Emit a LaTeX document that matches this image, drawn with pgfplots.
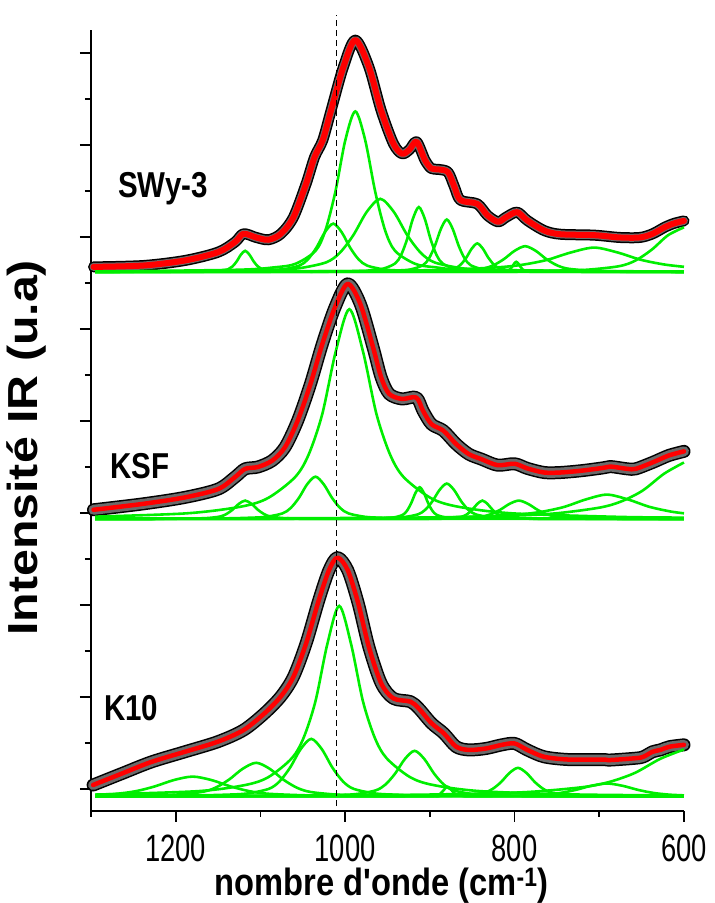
\documentclass[border=0pt]{standalone}
\usepackage{fontspec}
\setmainfont{Liberation Sans}
\newfontfamily\tickfont[FakeStretch=0.72]{Liberation Sans}
\newfontfamily\labfont[FakeStretch=0.86]{Liberation Sans}
\newfontfamily\namefont[FakeStretch=0.82]{Liberation Sans}
\newfontfamily\ylabfont[FakeStretch=1.15]{Liberation Sans}
\usepackage{pgfplots}
\usepackage{pgfplotstable}
\pgfplotsset{compat=1.18}
\definecolor{fitred}{RGB}{255,0,0}
\definecolor{compgreen}{RGB}{0,238,0}

\pgfplotstableread{
x y
600 12.35
611 12.30
622 12.22
637 12.07
652 11.99
676 11.99
706 12.04
746 12.06
765 12.14
785 12.36
797 12.54
810 12.43
819.5 12.33
832 12.47
844 12.72
863.8 12.80
871 13.09
878.6 13.41
890 13.47
898.3 13.49
905.7 13.67
915.6 14.07
924 13.90
932.8 13.81
943 14.03
957.5 14.75
972 15.70
988 16.28
1002 15.70
1016.6 14.75
1026.5 14.10
1036 13.74
1046 13.16
1061 12.43
1075.8 12.07
1090.5 11.94
1105 11.99
1120 12.07
1130 11.89
1150 11.67
1189 11.49
1238 11.38
1297 11.35
}\swy

\pgfplotstableread{
x y
600 7.34
618 7.25
637 7.10
657 6.96
667 6.96
687 7.01
696 6.98
721 6.92
746 6.88
765 6.88
785 6.97
800 7.07
820 7.04
839 7.17
854 7.28
869 7.50
884 7.79
898 7.93
908 8.22
916 8.51
933 8.48
948 8.59
957.5 8.95
967 9.60
982 10.54
997 10.98
1012 10.47
1027 9.67
1041 8.80
1056 8.01
1071 7.43
1086 7.14
1103 7.00
1118 6.96
1130 6.78
1150 6.52
1189 6.34
1238 6.20
1297 6.07
}\ksf

\pgfplotstableread{
x y
600 0.96
617 0.92
628 0.85
637 0.81
648 0.70
657 0.67
687 0.63
696 0.64
736 0.64
765 0.70
785 0.85
800 0.99
815 0.96
834 0.88
854 0.85
869 0.92
883.5 1.21
898 1.43
913 1.75
923 1.90
943 1.97
957.5 2.30
972 3.09
984.6 4.04
997 4.76
1009 5.03
1019 4.76
1031 4.11
1046 3.17
1061 2.44
1076 2.01
1095.5 1.64
1120 1.28
1150 1.03
1189 0.81
1228.5 0.59
1263 0.34
1297.5 0.087
}\kten

\pgfplotsset{
  bandout/.style={black, line width=#1, smooth, line cap=round, line join=round},
  bandin/.style={black!58, line width=#1, smooth, line cap=round, line join=round},
  fit/.style={fitred, line width=#1, smooth, line cap=round, line join=round},
  comp/.style={compgreen, line width=2.6bp, smooth},
}

\begin{document}
\begin{tikzpicture}
\begin{axis}[
  scale only axis, width=593bp, height=781bp,
  x dir=reverse, xmin=600, xmax=1300, ymin=-0.478, ymax=16.5,
  axis x line*=bottom, axis y line*=left,
  clip=false,
  axis line style={line width=1.8bp, black},
  xtick={600,800,1000,1200}, minor xtick={700,900,1100,1300},
  ytick={0,2,...,16}, minor ytick={1,3,...,15},
  yticklabels={},
  tick align=outside, major tick length=11bp, minor tick length=6bp,
  tick style={black, line width=1.8bp},
  /pgf/number format/assume math mode=true,
  /pgf/number format/set thousands separator={},
  xticklabel style={font=\tickfont\fontsize{38bp}{38bp}\selectfont, inner sep=0pt, anchor=north, yshift=-13bp},
  xlabel={nombre d'onde (cm\textsuperscript{-1})},
  xlabel style={font=\labfont\bfseries\fontsize{38bp}{38bp}\selectfont, at={(axis description cs:0.49,-0.1088)}, anchor=base, inner sep=0pt},
  ylabel={Intensité IR (u.a)},
  ylabel style={font=\ylabfont\bfseries\fontsize{42bp}{42bp}\selectfont, at={(axis description cs:-0.108,0.465)}, anchor=center, inner sep=0pt},
]
\coordinate (bl) at (axis cs:1300,-0.478);

% ---- experimental data (bands) ----
\addplot[bandout=11bp] table[x=x,y=y] {\swy};
\addplot[bandin=8bp] table[x=x,y=y] {\swy};
\addplot[bandout=13bp] table[x=x,y=y] {\ksf};
\addplot[bandin=10bp] table[x=x,y=y] {\ksf};
\addplot[bandout=13bp] table[x=x,y=y] {\kten};
\addplot[bandin=10bp] table[x=x,y=y] {\kten};

% ---- SWy-3 components ----
\addplot[comp] coordinates {(600,11.24) (1058,11.246) (1078,11.254) (1088,11.264) (1098,11.30) (1103,11.359) (1108,11.47) (1113,11.617) (1118,11.70) (1123,11.617) (1128,11.47) (1133,11.359) (1138,11.30) (1148,11.264) (1158,11.254) (1178,11.246) (1295,11.241)};
\addplot[comp] coordinates {(600,11.241) (894,11.254) (934,11.271) (954,11.294) (974,11.378) (984,11.512) (994,11.765) (1004,12.102) (1014,12.29) (1024,12.102) (1034,11.765) (1044,11.512) (1054,11.378) (1074,11.294) (1094,11.271) (1134,11.254) (1295,11.243)};
\addplot[comp] coordinates {(600,11.246) (847,11.287) (894,11.343) (917.5,11.418) (941,11.697) (952.8,12.144) (964.5,12.985) (976.3,14.104) (988,14.73) (999.8,14.104) (1011.5,12.985) (1023.3,12.144) (1035,11.697) (1058.5,11.418) (1082,11.343) (1129,11.287) (1295,11.25)};
\addplot[comp] coordinates {(600,11.246) (766.5,11.261) (830.5,11.287) (862.5,11.321) (894.5,11.448) (910.5,11.652) (926.5,12.035) (942.5,12.545) (958.5,12.83) (974.5,12.545) (990.5,12.035) (1006.5,11.652) (1022.5,11.448) (1054.5,11.321) (1086.5,11.287) (1150.5,11.261) (1295,11.247)};
\addplot[comp] coordinates {(600,11.241) (829,11.259) (857,11.281) (871,11.312) (885,11.425) (892,11.605) (899,11.945) (906,12.397) (913,12.65) (920,12.397) (927,11.945) (934,11.605) (941,11.425) (955,11.312) (969,11.281) (997,11.259) (1295,11.241)};
\addplot[comp] coordinates {(600,11.241) (796,11.255) (824,11.274) (838,11.298) (852,11.389) (859,11.535) (866,11.81) (873,12.175) (880,12.38) (887,12.175) (894,11.81) (901,11.535) (908,11.389) (922,11.298) (936,11.274) (964,11.255) (1295,11.241)};
\addplot[comp] coordinates {(600,11.241) (766,11.248) (792,11.258) (805,11.272) (818,11.321) (824.5,11.401) (831,11.55) (837.5,11.749) (844,11.86) (850.5,11.749) (857,11.55) (863.5,11.401) (870,11.321) (883,11.272) (896,11.258) (922,11.248) (1295,11.241)};
\addplot[comp] coordinates {(600,11.245) (637.5,11.248) (687.5,11.256) (712.5,11.269) (737.5,11.313) (750,11.385) (762.5,11.52) (775,11.699) (787.5,11.80) (800,11.699) (812.5,11.52) (825,11.385) (837.5,11.313) (862.5,11.269) (887.5,11.256) (937.5,11.248) (1295,11.241)};
\addplot[comp] coordinates {(600,11.24) (768,11.243) (778,11.246) (783,11.251) (788,11.269) (790.5,11.297) (793,11.35) (795.5,11.42) (798,11.46) (800.5,11.42) (803,11.35) (805.5,11.297) (808,11.269) (813,11.251) (818,11.246) (828,11.243) (1295,11.24)};
\addplot[comp] coordinates {(600,11.352) (623.5,11.403) (651,11.505) (678.5,11.664) (706,11.77) (733.5,11.664) (761,11.505) (788.5,11.403) (816,11.346) (871,11.293) (926,11.271) (1036,11.254) (1295,11.245)};
\addplot[comp] coordinates {(600,12.21) (619,12.036) (638,11.725) (657,11.491) (676,11.367) (714,11.289) (752,11.269) (828,11.253) (1295,11.241)};

% ---- KSF components ----
\addplot[comp] coordinates {(600,5.90) (675,5.915) (803,5.993) (867,6.138) (899,6.326) (931,6.782) (947,7.273) (963,8.15) (979,9.518) (995,10.43) (1011,9.518) (1027,8.15) (1043,7.273) (1059,6.782) (1091,6.326) (1123,6.138) (1187,5.993) (1295,5.921)};
\addplot[comp] coordinates {(600,5.871) (918,5.882) (957,5.897) (976.5,5.917) (996,5.991) (1005.8,6.108) (1015.5,6.33) (1025.3,6.625) (1035,6.79) (1044.8,6.625) (1054.5,6.33) (1064.3,6.108) (1074,5.991) (1093.5,5.917) (1113,5.897) (1152,5.882) (1295,5.872)};
\addplot[comp] coordinates {(600,5.87) (1028,5.875) (1058,5.882) (1073,5.89) (1088,5.922) (1095.5,5.974) (1103,6.07) (1110.5,6.198) (1118,6.27) (1125.5,6.198) (1133,6.07) (1140.5,5.974) (1148,5.922) (1163,5.89) (1178,5.882) (1208,5.875) (1295,5.872)};
\addplot[comp] coordinates {(600,5.871) (852,5.879) (872,5.89) (882,5.905) (892,5.96) (897,6.049) (902,6.215) (907,6.436) (912,6.56) (917,6.436) (922,6.215) (927,6.049) (932,5.96) (942,5.905) (952,5.89) (972,5.879) (1295,5.871)};
\addplot[comp] coordinates {(600,5.871) (778,5.88) (812,5.893) (829,5.909) (846,5.971) (854.5,6.069) (863,6.255) (871.5,6.502) (880,6.64) (888.5,6.502) (897,6.255) (905.5,6.069) (914,5.971) (931,5.909) (948,5.893) (982,5.88) (1295,5.871)};
\addplot[comp] coordinates {(600,5.87) (766,5.875) (790,5.882) (802,5.89) (814,5.922) (820,5.974) (826,6.07) (832,6.198) (838,6.27) (844,6.198) (850,6.07) (856,5.974) (862,5.922) (874,5.89) (886,5.882) (910,5.875) (1295,5.87)};
\addplot[comp] coordinates {(600,5.872) (663,5.875) (707,5.882) (729,5.89) (751,5.922) (762,5.974) (773,6.07) (784,6.198) (795,6.27) (806,6.198) (817,6.07) (828,5.974) (839,5.922) (861,5.89) (883,5.882) (927,5.875) (1295,5.87)};
\addplot[comp] coordinates {(600,5.993) (616,6.033) (641,6.135) (666,6.294) (691,6.40) (716,6.294) (741,6.135) (766,6.033) (791,5.976) (841,5.923) (891,5.901) (991,5.884) (1295,5.874)};
\addplot[comp] coordinates {(600,7.098) (623.5,6.854) (649,6.485) (674.5,6.248) (700,6.116) (751,5.993) (802,5.942) (904,5.903) (1108,5.882) (1295,5.877)};

% ---- K10 components ----
\addplot[comp] coordinates {(600,-0.14) (727,-0.119) (839,-0.048) (895,0.083) (923,0.254) (951,0.668) (965,1.114) (979,1.91) (993,3.152) (1007,3.98) (1021,3.152) (1035,1.91) (1049,1.114) (1063,0.668) (1091,0.254) (1119,0.083) (1175,-0.048) (1295,-0.121)};
\addplot[comp] coordinates {(600,-0.158) (890,-0.143) (940,-0.123) (965,-0.096) (990,0.004) (1002.5,0.164) (1015,0.465) (1027.5,0.866) (1040,1.09) (1052.5,0.866) (1065,0.465) (1077.5,0.164) (1090,0.004) (1115,-0.096) (1140,-0.123) (1190,-0.143) (1295,-0.154)};
\addplot[comp] coordinates {(600,-0.158) (913,-0.15) (977,-0.139) (1009,-0.123) (1041,-0.064) (1057,0.029) (1073,0.205) (1089,0.439) (1105,0.57) (1121,0.439) (1137,0.205) (1153,0.029) (1169,-0.064) (1201,-0.123) (1233,-0.139) (1295,-0.15)};
\addplot[comp] coordinates {(600,-0.159) (910,-0.154) (1000,-0.147) (1045,-0.138) (1090,-0.104) (1112.5,-0.049) (1135,0.055) (1157.5,0.193) (1180,0.27) (1202.5,0.193) (1225,0.055) (1247.5,-0.049) (1270,-0.104) (1295,-0.129)};
\addplot[comp] coordinates {(600,-0.157) (780,-0.147) (826,-0.131) (849,-0.11) (872,-0.03) (883.5,0.096) (895,0.335) (906.5,0.652) (918,0.83) (929.5,0.652) (941,0.335) (952.5,0.096) (964,-0.03) (987,-0.11) (1010,-0.131) (1056,-0.147) (1295,-0.158)};
\addplot[comp] coordinates {(600,-0.16) (843,-0.157) (855,-0.154) (861,-0.149) (867,-0.132) (870,-0.106) (873,-0.055) (876,0.012) (879,0.05) (882,0.012) (885,-0.055) (888,-0.106) (891,-0.132) (897,-0.149) (903,-0.154) (915,-0.157) (1295,-0.16)};
\addplot[comp] coordinates {(600,-0.157) (676,-0.152) (716,-0.142) (736,-0.128) (756,-0.079) (766,0.001) (776,0.15) (786,0.349) (796,0.46) (806,0.349) (816,0.15) (826,0.001) (836,-0.079) (856,-0.128) (876,-0.142) (916,-0.152) (1295,-0.159)};
\addplot[comp] coordinates {(600,-0.138) (617,-0.123) (635.5,-0.087) (654,-0.02) (672.5,0.07) (691,0.12) (709.5,0.07) (728,-0.02) (746.5,-0.087) (765,-0.123) (802,-0.146) (839,-0.152) (913,-0.156) (1295,-0.16)};
\addplot[comp] coordinates {(600,0.859) (628,0.656) (658,0.35) (688,0.154) (718,0.044) (778,-0.058) (838,-0.10) (958,-0.132) (1198,-0.15) (1295,-0.153)};

% ---- fits ----
\addplot[fit=6bp] table[x=x,y=y] {\swy};
\addplot[fit=4.5bp] table[x=x,y=y] {\ksf};
\addplot[fit=4.5bp] table[x=x,y=y] {\kten};

% ---- reference line ----
\addplot[black, line width=1.6bp, dash pattern=on 6bp off 4bp] coordinates {(1010,-0.37) (1010,16.83)};

% ---- sample names ----
\node[anchor=base west, inner sep=0pt, font=\namefont\bfseries\fontsize{36bp}{36bp}\selectfont] at (axis cs:1268,12.85) {SWy-3};
\node[anchor=base west, inner sep=0pt, font=\namefont\bfseries\fontsize{36bp}{36bp}\selectfont] at (axis cs:1277.6,6.76) {KSF};
\node[anchor=base west, inner sep=0pt, font=\namefont\bfseries\fontsize{36bp}{36bp}\selectfont] at (axis cs:1284.7,1.50) {K10};
\end{axis}
\pgfresetboundingbox
\path[use as bounding box] ([shift={(-91bp,-92bp)}]bl) rectangle ([shift={(624bp,811bp)}]bl);
\end{tikzpicture}
\end{document}
